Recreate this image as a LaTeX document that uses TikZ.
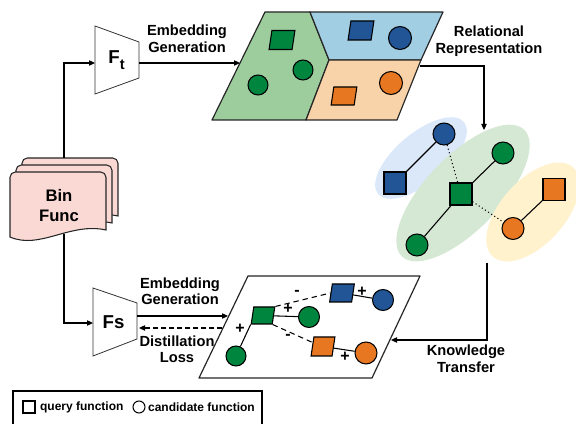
\documentclass[tikz,border=0pt]{standalone}
\usepackage{fontspec}
\setmainfont{Liberation Sans}
\usetikzlibrary{arrows.meta,shapes.geometric}
\definecolor{gdark}{RGB}{0,133,62}
\definecolor{bdark}{RGB}{33,85,150}
\definecolor{odark}{RGB}{232,119,34}
\definecolor{glight}{RGB}{157,204,157}
\definecolor{blight}{RGB}{162,206,227}
\definecolor{olight}{RGB}{248,210,168}
\definecolor{ebl}{RGB}{218,232,250}
\definecolor{egr}{RGB}{213,232,212}
\definecolor{eor}{RGB}{255,242,204}
\definecolor{pinkdoc}{RGB}{250,217,213}
\begin{document}
\begin{tikzpicture}[x=0.75pt,y=-0.75pt,
  lbl/.style={font=\fontsize{11}{13}\selectfont\bfseries, align=center, inner sep=0pt},
  conn/.style={line width=0.8pt, -{Triangle[length=4.5pt,width=4pt]}},
  cir/.style={circle, draw=black, line width=0.8pt, inner sep=0pt, minimum size=#1},
  sqr/.style={rectangle, draw=black, line width=0.8pt, inner sep=0pt},
  slant/.style={xslant=0.15},
  sgn/.style={font=\fontsize{12}{12}\selectfont\bfseries, inner sep=0pt},
  region/.style={draw=black!85, line width=0.9pt, line join=round},
  trap/.style={draw=black!80, line width=0.6pt, fill=white},
  docsty/.style={draw=black!85, line width=0.8pt, fill=pinkdoc},
  ell/.style={ellipse, inner sep=0pt}
]
\useasboundingbox (0,0) rectangle (576,424);

% ---------- Bin Func documents ----------
\foreach \dx/\dy in {12/-14, 6/-7, 0/0} {
  \draw[docsty, shift={(\dx,\dy)}] (10,237) [rounded corners=4pt] -- (10,172) -- (106,172) [sharp corners] -- (106,230)
     .. controls (70,222) and (40,250) .. (10,237) -- cycle;
}
\node[font=\fontsize{12.5}{15.5}\selectfont\bfseries, align=center] (bin) at (59,205.5) {Bin\\Func};
\coordinate (bintop) at (64,158);
\coordinate (binbot) at (64,234);

% ---------- Ft / Fs ----------
\draw[trap] (95,26) -- (139,42) -- (139,78) -- (95,94) -- cycle;
\node[font=\fontsize{14}{14}\selectfont\bfseries, inner sep=0pt] (ft) at (116.5,60) {F\raisebox{-4pt}{\fontsize{11}{11}\selectfont t}};
\draw[trap] (93,288) -- (137,303) -- (137,339) -- (93,356) -- cycle;
\node[font=\fontsize{14}{14}\selectfont\bfseries, inner sep=0pt] (fs) at (113.5,322.5) {Fs};

\coordinate (ftin) at (95,63);
\coordinate (ftout) at (139,63);
\coordinate (fsin) at (93,323);
\coordinate (fsout) at (137,316);
\coordinate (fsback) at (139,328);

% ---------- top parallelogram ----------
\draw[region, fill=glight] (265,12) -- (310,12) -- (329,60) -- (306,120) -- (212,120) -- cycle;
\draw[region, fill=blight] (310,12) -- (443,12) -- (421,60) -- (329,60) -- cycle;
\draw[region, fill=olight] (329,60) -- (421,60) -- (397,120) -- (306,120) -- cycle;
\coordinate (tpin) at (240,63);
\coordinate (tpout) at (420,66);

\node[sqr, slant, fill=gdark, minimum width=17.25pt, minimum height=14.25pt] (tgs) at (282,40) {};
\node[cir=15pt, fill=gdark] (tgc1) at (303,70) {};
\node[cir=15pt, fill=gdark] (tgc2) at (258,85) {};
\node[sqr, slant, fill=bdark, minimum width=17.25pt, minimum height=14.25pt] (tbs) at (361,30.5) {};
\node[cir=17.25pt, fill=bdark] (tbc) at (400,38) {};
\node[sqr, slant, fill=odark, minimum width=17.25pt, minimum height=13.5pt] (tos) at (344,96) {};
\node[cir=17.25pt, fill=odark] (toc) at (391,83) {};

% ---------- relational graph ----------
\node[ell, fill=ebl, minimum width=84pt, minimum height=37.5pt, rotate=40] (eb) at (421,158) {};
\node[ell, fill=egr, minimum width=132pt, minimum height=55.5pt, rotate=46] (eg) at (463,193) {};
\node[ell, fill=eor, minimum width=90pt, minimum height=48pt, rotate=48] (eo) at (533,212) {};

\node[cir=16.5pt, fill=bdark] (gbc) at (444,134) {};
\node[sqr, fill=bdark, minimum size=16.5pt] (gbs) at (395,183) {};
\node[cir=16.5pt, fill=gdark] (ggc1) at (503,153) {};
\node[sqr, fill=gdark, minimum size=16.5pt] (ggs) at (461,194) {};
\node[cir=16.5pt, fill=gdark] (ggc2) at (417,245) {};
\node[sqr, fill=odark, minimum size=16.5pt] (gos) at (554,189.5) {};
\node[cir=16.5pt, fill=odark] (goc) at (513,228.5) {};

\draw[line width=0.8pt] (gbc) -- (gbs);
\draw[line width=0.8pt] (ggs) -- (ggc1);
\draw[line width=0.8pt] (ggs) -- (ggc2);
\draw[line width=0.8pt] (gos) -- (goc);
\draw[line width=0.8pt, dotted] (gbc) -- (ggs);
\draw[line width=0.8pt, dotted] (ggs) -- (goc);

\coordinate (grtop) at (484,130);
\coordinate (grbot) at (487,263);

% ---------- lower parallelogram ----------
\draw[region, fill=white] (248,276) -- (420,276) -- (372,378) -- (199,378) -- cycle;
\coordinate (lpin) at (391,340);
\coordinate (lpleft) at (228,316);
\coordinate (lpleft2) at (222,328);

\node[sqr, slant, fill=gdark, minimum width=15.75pt, minimum height=12.75pt] (lgs) at (263,315.5) {};
\node[cir=15pt, fill=gdark] (lgc1) at (236,356) {};
\node[cir=15.75pt, fill=gdark] (lgc2) at (309,317) {};
\node[sqr, slant, fill=bdark, minimum width=16.5pt, minimum height=13.5pt] (lbs) at (342,293) {};
\node[cir=15.75pt, fill=bdark] (lbc) at (383,300) {};
\node[sqr, slant, fill=odark, minimum width=15.75pt, minimum height=14.25pt] (los) at (323,346.5) {};
\node[cir=16.5pt, fill=odark] (loc) at (366,353) {};

\draw[line width=0.8pt] (lgs.south west) -- (lgc1);
\draw[line width=0.8pt] (lgs) -- (lgc2);
\draw[line width=0.8pt] (lbs) -- (lbc);
\draw[line width=0.8pt] (los) -- (loc);
\draw[line width=0.8pt, dash pattern=on 4pt off 3pt] (lgs.north east) -- (lbs.west);
\draw[line width=0.8pt, dash pattern=on 4pt off 3pt] (lgs.south east) -- (los.160);

\node[sgn] (p1) at (240,329) {+};
\node[sgn] (p2) at (288,309) {+};
\node[sgn] (m1) at (297,293) {-};
\node[sgn] (m2) at (288,337) {-};
\node[sgn] (p3) at (362,292) {+};
\node[sgn] (p4) at (345,357) {+};

% ---------- connectors ----------
\draw[conn] (bintop) |- (ftin);
\draw[conn] (ftout) -- (tpin);
\draw[conn] (tpout) -| (grtop);
\draw[conn] (grbot) |- (lpin);
\draw[conn] (binbot) |- (fsin);
\draw[conn] (fsout) -- (lpleft);
\draw[conn, dash pattern=on 3.5pt off 2.5pt] (lpleft2) -- (fsback);

% ---------- labels ----------
\node[lbl] (l1) at (187,38.5) {Embedding\\Generation};
\node[lbl] (l2) at (489,41) {Relational\\Representation};
\node[lbl] (l3) at (466,359) {Knowledge\\Transfer};
\node[lbl, font=\fontsize{11}{12}\selectfont\bfseries] (l4) at (180,291) {Embedding\\Generation};
\node[lbl, font=\fontsize{11}{12}\selectfont\bfseries] (l5) at (177,349.5) {Distillation\\Loss};

% ---------- legend ----------
\draw[line width=0.8pt] (13,391) rectangle (262,430);
\node[sqr, minimum size=9pt] (legsq) at (29,407) {};
\node[font=\fontsize{9}{9}\selectfont\bfseries, anchor=west, inner sep=1pt] (legq) at (38.5,407) {query function};
\node[cir=9pt] (legc) at (139,407) {};
\node[font=\fontsize{9}{9}\selectfont\bfseries, anchor=west, inner sep=1pt] (legcand) at (146.5,407) {candidate function};
\end{tikzpicture}
\end{document}
